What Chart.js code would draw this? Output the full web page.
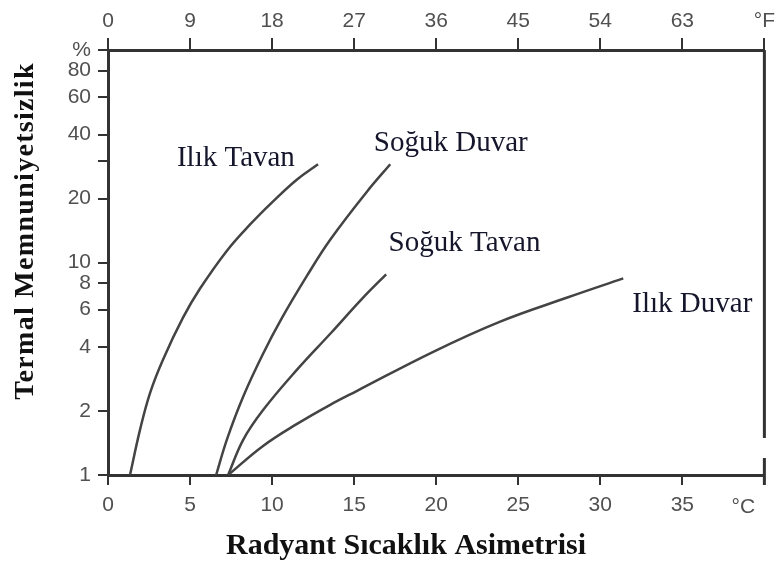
<!DOCTYPE html>
<html>
<head>
<meta charset="utf-8">
<script src="https://cdn.jsdelivr.net/npm/chart.js@4/dist/chart.umd.min.js"></script>
<style>
html, body { margin: 0; padding: 0; background: #fff; }
canvas { display: block; }
</style>
</head>
<body>
<canvas id="chart" width="779" height="564"></canvas>
<script>
// radiant asymmetry (°C) against percentage dissatisfied
const ilikTavanX = [1.34, 1.95, 2.56, 3.35, 4.57, 5.61, 7.26, 8.66, 10.06, 11.52, 12.8];
const ilikTavanY = [1, 1.63, 2.43, 3.49, 5.5, 7.54, 11.4, 15.1, 19.4, 24.6, 29];
const sogukDuvarX = [6.59, 7.26, 8.23, 9.45, 10.61, 12.13, 13.54, 15.79, 17.2];
const sogukDuvarY = [1, 1.48, 2.33, 3.72, 5.5, 8.67, 12.8, 21.6, 29];
const sogukTavanX = [7.32, 8.23, 9.45, 11.52, 13.6, 15.49, 16.95];
const sogukTavanY = [1, 1.46, 2.02, 3.13, 4.67, 6.76, 8.8];
const ilikDuvarX = [7.32, 9.45, 11.52, 13.54, 15.18, 19.82, 23.9, 27.99, 31.4];
const ilikDuvarY = [1, 1.37, 1.74, 2.14, 2.49, 3.8, 5.27, 6.84, 8.42];

const seriesNames = ["Ilık Tavan", "Soğuk Duvar", "Soğuk Tavan", "Ilık Duvar"];
const yTicks = [1, 2, 4, 6, 8, 10, 20, 30, 40, 60, 80, 100];
const cTicks = [0, 5, 10, 15, 20, 25, 30, 35, 40];
const fTicks = [0, 9, 18, 27, 36, 45, 54, 63, 72];

const xTitle = "Radyant Sıcaklık Asimetrisi";
const yTitle = "Termal Memnuniyetsizlik";

function pts(xs, ys) {
    return xs.map((x, i) => ({ x: x, y: ys[i] }));
}

const curves = [
    pts(ilikTavanX, ilikTavanY),
    pts(sogukDuvarX, sogukDuvarY),
    pts(sogukTavanX, sogukTavanY),
    pts(ilikDuvarX, ilikDuvarY)
];

const tickFont = { family: '"Liberation Sans", Arial, sans-serif', size: 21 };
const tickColor = "#505050";
const axisColor = "#333";

function fixedTicks(list) {
    return s => { s.ticks = list.map(v => ({ value: v })); };
}

const textLayer = {
    id: "textLayer",
    afterDraw(chart) {
        const ctx = chart.ctx,
            a = chart.chartArea,
            sx = chart.scales.x,
            sy = chart.scales.y;
        ctx.save();

        // right edge of the frame, with its break near the bottom
        ctx.strokeStyle = axisColor;
        ctx.lineWidth = 3;
        ctx.beginPath();
        ctx.moveTo(a.right, a.top);
        ctx.lineTo(a.right, a.bottom - 37);
        ctx.moveTo(a.right, a.bottom - 17);
        ctx.lineTo(a.right, a.bottom + 10);
        ctx.stroke();

        // curve names, anchored in data space
        const anchors = [[4.2, 28.3], [16.2, 33.5], [17.1, 11.3], [31.95, 5.87]];
        ctx.fillStyle = "#15152b";
        ctx.font = '29px "Liberation Serif", "Times New Roman", serif';
        ctx.textAlign = "left";
        ctx.textBaseline = "alphabetic";
        seriesNames.forEach((n, i) => {
            ctx.fillText(n, sx.getPixelForValue(anchors[i][0]), sy.getPixelForValue(anchors[i][1]));
        });

        // unit on the bottom scale
        ctx.fillStyle = tickColor;
        ctx.font = tickFont.size + "px " + tickFont.family;
        ctx.textAlign = "center";
        ctx.textBaseline = "middle";
        ctx.fillText("°C", a.right - 21, a.bottom + 32);

        // axis titles
        ctx.fillStyle = "#111";
        ctx.font = 'bold 30px "Liberation Serif", "Times New Roman", serif';
        ctx.textBaseline = "alphabetic";
        ctx.fillText(xTitle, 406, 554);

        ctx.translate(33, 231);
        ctx.rotate(-Math.PI / 2);
        ctx.font = 'bold 28px "Liberation Serif", "Times New Roman", serif';
        ctx.letterSpacing = "1.3px";
        ctx.fillText(yTitle, 0, 0);
        ctx.restore();
    }
};

new Chart(document.getElementById("chart"), {
    type: "scatter",
    data: {
        datasets: curves.map((c, i) => ({
            label: seriesNames[i],
            data: c,
            showLine: true,
            borderColor: "#444",
            borderWidth: 2.5,
            pointRadius: 0,
            pointHoverRadius: 0,
            tension: 0.4,
            fill: false
        }))
    },
    options: {
        responsive: false,
        devicePixelRatio: 1,
        animation: false,
        layout: { padding: { left: 0, right: 14, top: 0, bottom: 0 } },
        plugins: {
            legend: { display: false },
            title: { display: false },
            tooltip: { enabled: false }
        },
        scales: {
            x: {
                type: "linear",
                position: "bottom",
                min: 0,
                max: 40,
                afterBuildTicks: fixedTicks(cTicks),
                afterFit: s => { s.height = 89; },
                ticks: {
                    font: tickFont,
                    color: tickColor,
                    padding: 8,
                    maxRotation: 0,
                    callback: v => v === 40 ? "" : v
                },
                grid: { drawOnChartArea: false, color: axisColor, lineWidth: 2, tickLength: 10 },
                border: { color: axisColor, width: 3 }
            },
            x2: {
                type: "linear",
                position: "top",
                min: 0,
                max: 72,
                afterBuildTicks: fixedTicks(fTicks),
                afterFit: s => { s.height = 50; },
                ticks: {
                    font: tickFont,
                    color: tickColor,
                    padding: 4,
                    maxRotation: 0,
                    callback: v => v === 72 ? "°F" : v
                },
                grid: { drawOnChartArea: false, color: axisColor, lineWidth: 2, tickLength: 12 },
                border: { color: axisColor, width: 3 }
            },
            y: {
                type: "logarithmic",
                position: "left",
                min: 1,
                max: 100,
                afterBuildTicks: fixedTicks(yTicks),
                afterFit: s => { s.width = 108; },
                ticks: {
                    font: tickFont,
                    color: tickColor,
                    padding: 7,
                    callback: v => v === 100 ? "%" : (v === 30 ? "" : v)
                },
                grid: { drawOnChartArea: false, color: axisColor, lineWidth: 2, tickLength: 10 },
                border: { color: axisColor, width: 3 }
            }
        }
    },
    plugins: [textLayer]
});
</script>
</body>
</html>
